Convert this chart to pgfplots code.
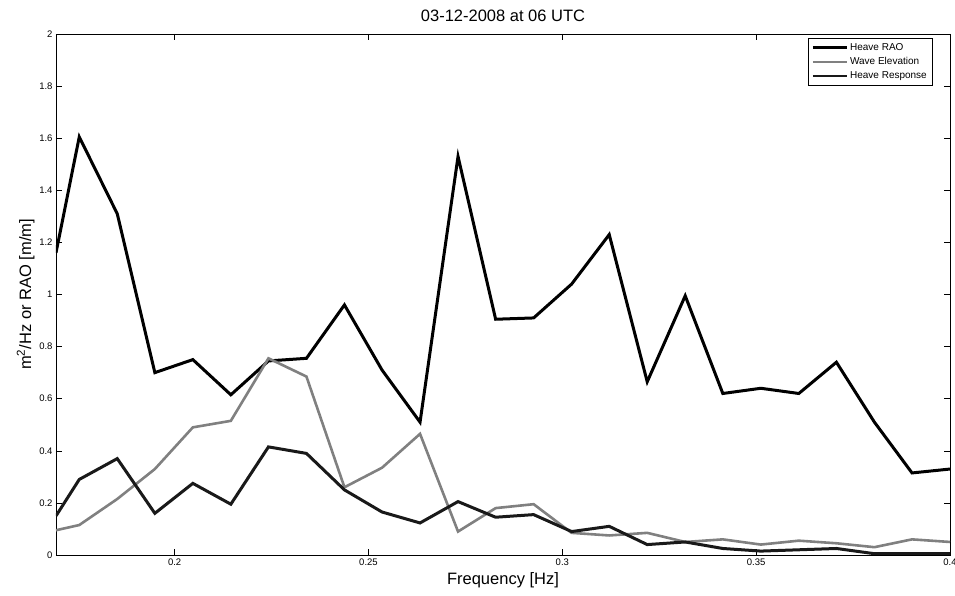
\documentclass[border=0pt]{standalone}
\usepackage{fontspec}
\setmainfont{Liberation Sans}
\usepackage{pgfplots}
\pgfplotsset{compat=1.18}
\begin{document}
\begin{tikzpicture}
\path[use as bounding box] (-56pt,-41pt) rectangle (899pt,555pt);
\begin{axis}[
  at={(0pt,0pt)}, anchor=south west, scale only axis,
  width=894pt, height=521pt,
  xmin=0.1694, xmax=0.4, ymin=0, ymax=2,
  xtick={0.2,0.25,0.3,0.35,0.4},
  ytick={0,0.2,0.4,0.6,0.8,1,1.2,1.4,1.6,1.8,2},
  tick align=inside, major tick length=6pt,
  tick style={black, line width=0.5pt},
  axis line style={line width=0.6pt},
  /pgf/number format/assume math mode=true,
  ticklabel style={font=\fontsize{9.5}{11}\selectfont},
  title={03-12-2008 at 06 UTC},
  title style={at={(axis description cs:0.5,1)}, anchor=south, yshift=3pt, font=\fontsize{16.5}{19}\selectfont},
  xlabel={Frequency [Hz]},
  xlabel style={at={(axis description cs:0.5,0)}, anchor=center, yshift=-25pt, font=\fontsize{16.5}{19}\selectfont},
  ylabel={m\textsuperscript{2}/Hz or RAO [m/m]},
  ylabel style={at={(axis description cs:-0.034,0.5)}, anchor=center, font=\fontsize{16.5}{19}\selectfont},
  legend style={at={(rel axis cs:0.98,0.992)}, anchor=north east, draw=black, line width=0.6pt,
    font=\fontsize{10}{12}\selectfont, inner sep=3pt, row sep=1.5pt},
  legend cell align=left,
  legend image code/.code={\draw[#1, line width=2.5pt] (0pt,0pt) -- (34pt,0pt);},
]
\addplot[black, line width=3pt] coordinates {
(0.1694,1.16) (0.1754,1.605) (0.1852,1.31) (0.1949,0.70) (0.2047,0.75) (0.2145,0.615)
(0.2242,0.745) (0.2340,0.755) (0.2438,0.96) (0.2535,0.71) (0.2633,0.51) (0.2731,1.53)
(0.2828,0.905) (0.2926,0.91) (0.3024,1.04) (0.3121,1.23) (0.3219,0.665) (0.3317,0.995)
(0.3414,0.62) (0.3512,0.64) (0.3610,0.62) (0.3707,0.74) (0.3805,0.51) (0.3902,0.315) (0.4000,0.33)
};
\addlegendentry{Heave RAO}
\addplot[black!50, line width=2.6pt] coordinates {
(0.1694,0.095) (0.1754,0.115) (0.1852,0.215) (0.1949,0.33) (0.2047,0.49) (0.2145,0.515)
(0.2242,0.755) (0.2340,0.685) (0.2438,0.26) (0.2535,0.335) (0.2633,0.465) (0.2731,0.09)
(0.2828,0.18) (0.2926,0.195) (0.3024,0.085) (0.3121,0.075) (0.3219,0.085) (0.3317,0.05)
(0.3414,0.06) (0.3512,0.04) (0.3610,0.055) (0.3707,0.045) (0.3805,0.03) (0.3902,0.06) (0.4000,0.05)
};
\addlegendentry{Wave Elevation}
\addplot[black!90, line width=3pt] coordinates {
(0.1694,0.15) (0.1754,0.29) (0.1852,0.37) (0.1949,0.16) (0.2047,0.275) (0.2145,0.195)
(0.2242,0.415) (0.2340,0.39) (0.2438,0.25) (0.2535,0.165) (0.2633,0.123) (0.2731,0.205)
(0.2828,0.145) (0.2926,0.155) (0.3024,0.09) (0.3121,0.11) (0.3219,0.04) (0.3317,0.05)
(0.3414,0.025) (0.3512,0.015) (0.3610,0.02) (0.3707,0.025) (0.3805,0.005) (0.3902,0.005) (0.4000,0.005)
};
\addlegendentry{Heave Response}
\end{axis}
\end{tikzpicture}
\end{document}
